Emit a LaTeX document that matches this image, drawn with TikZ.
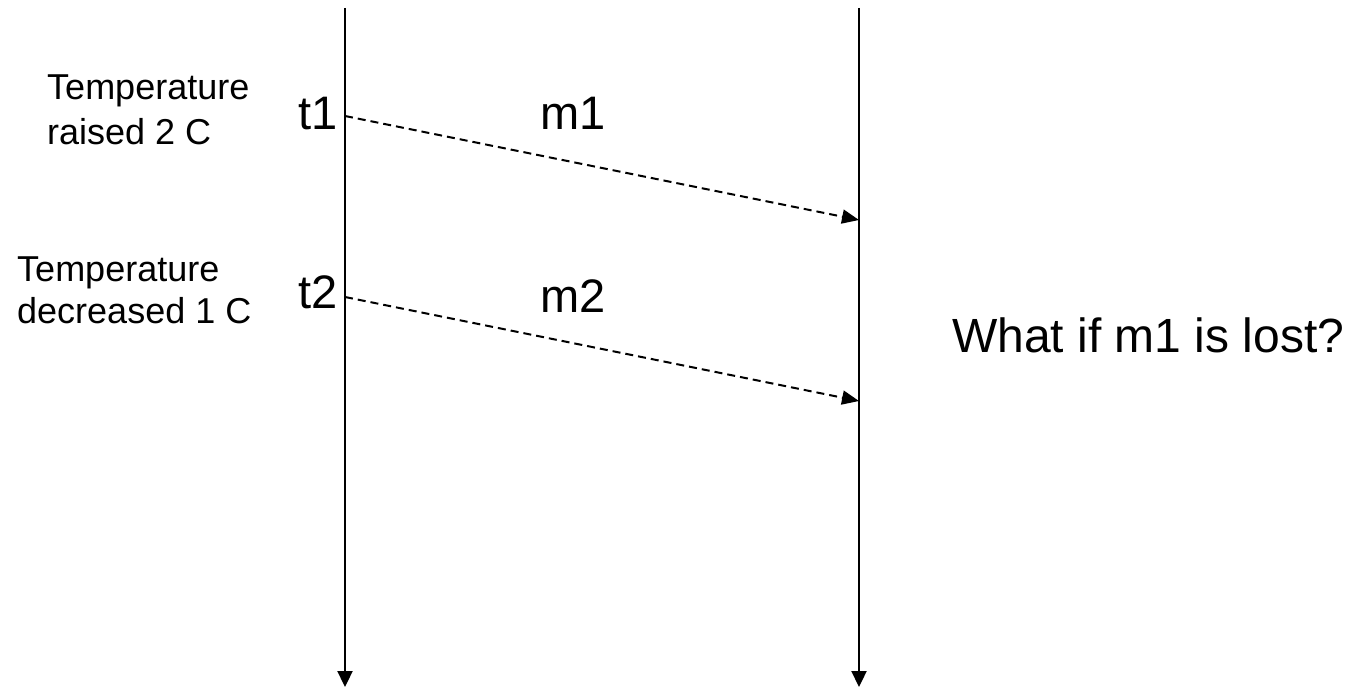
\documentclass[tikz,border=0pt]{standalone}
\usepackage{fontspec}
\setmainfont{Liberation Sans}
\usetikzlibrary{arrows.meta}
\begin{document}
\begin{tikzpicture}[x=1pt,y=-1pt,
  lbl/.style={inner sep=0pt,anchor=base west,font=\fontsize{36}{42}\selectfont},
  tlbl/.style={inner sep=0pt,anchor=base west,font=\fontsize{47}{56}\selectfont},
  big/.style={inner sep=0pt,anchor=base west,font=\fontsize{48}{56}\selectfont},
  life/.style={line width=2.3pt,-{Triangle[length=16pt,width=15pt]}},
  msg/.style={line width=2pt,dash pattern=on 8pt off 5pt,-{Triangle[length=17pt,width=14pt]}}]
\useasboundingbox (0,0) rectangle (1351,687);
\coordinate (Atop) at (345,8);
\coordinate (Abot) at (345,687);
\coordinate (Btop) at (859,8);
\coordinate (Bbot) at (859,687);
\draw[life] (Atop) -- (Abot);
\draw[life] (Btop) -- (Bbot);
\coordinate (s1) at (345,116);
\coordinate (e1) at (859,220);
\coordinate (s2) at (345,297);
\coordinate (e2) at (859,401);
\draw[msg] (s1) -- (e1);
\draw[msg] (s2) -- (e2);
\node[lbl] (l1a) at (47,100) {Temperature};
\node[lbl] (l1b) at (47,145) {raised 2 C};
\node[lbl] (l2a) at (17,281) {Temperature};
\node[lbl] (l2b) at (17,323) {decreased 1 C};
\node[tlbl] (t1) at (298,130) {t1};
\node[tlbl] (t2) at (298,308) {t2};
\node[tlbl] (m1) at (540,130) {m1};
\node[tlbl] (m2) at (540,312) {m2};
\node[big] (q) at (952,352) {What if m1 is lost?};
\end{tikzpicture}
\end{document}
